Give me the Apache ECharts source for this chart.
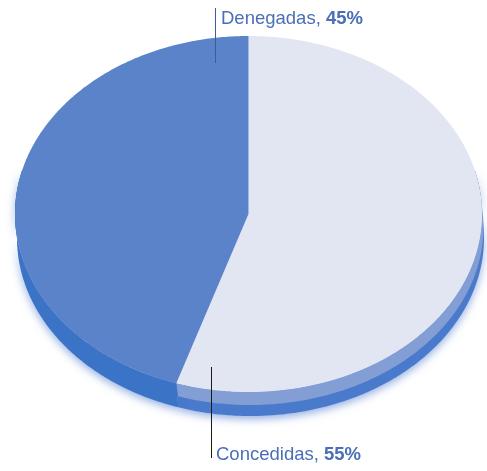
<!DOCTYPE html>
<html><head><meta charset="utf-8">
<script src="https://cdn.jsdelivr.net/npm/echarts@6/dist/echarts.min.js"></script>
<style>html,body{margin:0;padding:0;background:#fff}#c{width:487px;height:471px}</style>
</head><body><div id="c"></div>
<script>
// ---- data ----
const categories = ['Concedidas', 'Denegadas'];
const values = [55, 45];

// ---- styling / layout ----
const total = values.reduce((a, b) => a + b, 0);
const CX = 248.5, CY = 214, RX = 233.5, RY = 178;
const SIDE = { dx: 1.5, dy: 13 };
const BASE = { dx: 2, dy: 24 };
const topColors = ['#e1e6f2', '#5b83ca'];
const sideColors = ['#839ed4', '#3b74c7'];
const baseColors = ['#4a7acb', '#3b74c7'];
const labelLayout = [
  { lx: 211.5, y1: 367, y2: 458, tx: 216, ty: 455, lineColor: '#1a1a1a' },
  { lx: 215.5, y1: 8, y2: 63, tx: 221, ty: 19, lineColor: '#3f5d94' }
];
const textColor = '#4a6fb7';
const FONT = 'Liberation Sans, Arial, sans-serif';

function pt(t, ox, oy) { return [CX + ox + RX * Math.sin(t), CY + oy - RY * Math.cos(t)]; }
function arc(a0, a1, ox, oy) {
  const n = Math.max(2, Math.ceil((a1 - a0) / 0.01));
  const pts = [];
  for (let i = 0; i <= n; i++) pts.push(pt(a0 + (a1 - a0) * i / n, ox, oy));
  return pts;
}
function sector(a0, a1) { return [[CX, CY]].concat(arc(a0, a1, 0, 0)); }
function wall(a0, a1, ox, oy) {
  const s = Math.max(a0, Math.PI / 2 - 0.25), e = Math.min(a1, Math.PI * 1.5 + 0.25);
  if (s >= e) return null;
  return arc(s, e, 0, 0).concat(arc(s, e, ox, oy).reverse());
}

function renderItem(params, api) {
  const i = params.dataIndex;
  let before = 0;
  for (let k = 0; k < i; k++) before += values[k];
  const v = api.value(1);
  const a0 = before / total * Math.PI * 2;
  const a1 = (before + v) / total * Math.PI * 2;
  const pct = Math.round(v / total * 100) + '%';
  const L = labelLayout[i];
  const children = [];
  const bw = wall(a0, a1, BASE.dx, BASE.dy);
  if (bw) children.push({ type: 'polygon', z2: 0, shape: { points: bw },
    style: { fill: baseColors[i], shadowBlur: 8, shadowColor: 'rgba(60,110,200,0.55)', shadowOffsetY: 3 } });
  const sw = wall(a0, a1, SIDE.dx, SIDE.dy);
  if (sw) children.push({ type: 'polygon', z2: 1, shape: { points: sw }, style: { fill: sideColors[i] } });
  children.push(
    { type: 'polygon', z2: 2, shape: { points: sector(a0, a1) }, style: { fill: topColors[i] } },
    { type: 'line', z2: 3, shape: { x1: L.lx, y1: L.y1, x2: L.lx, y2: L.y2 },
      style: { stroke: L.lineColor, lineWidth: 1 } },
    { type: 'text', z2: 3, x: L.tx, y: L.ty,
      style: {
        text: '{n|' + api.value(0) + ', }{b|' + pct + '}',
        align: 'left', verticalAlign: 'middle',
        rich: {
          n: { fill: textColor, fontSize: 18.5, fontFamily: FONT },
          b: { fill: textColor, fontSize: 18.5, fontWeight: 'bold', fontFamily: FONT }
        }
      } }
  );
  return { type: 'group', children };
}

const chart = echarts.init(document.getElementById('c'), null, { renderer: 'canvas' });
chart.setOption({
  animation: false,
  series: [{
    type: 'custom',
    coordinateSystem: 'none',
    renderItem,
    dimensions: ['name', 'value'],
    data: categories.map((c, i) => [c, values[i]])
  }]
});
</script>
</body></html>
